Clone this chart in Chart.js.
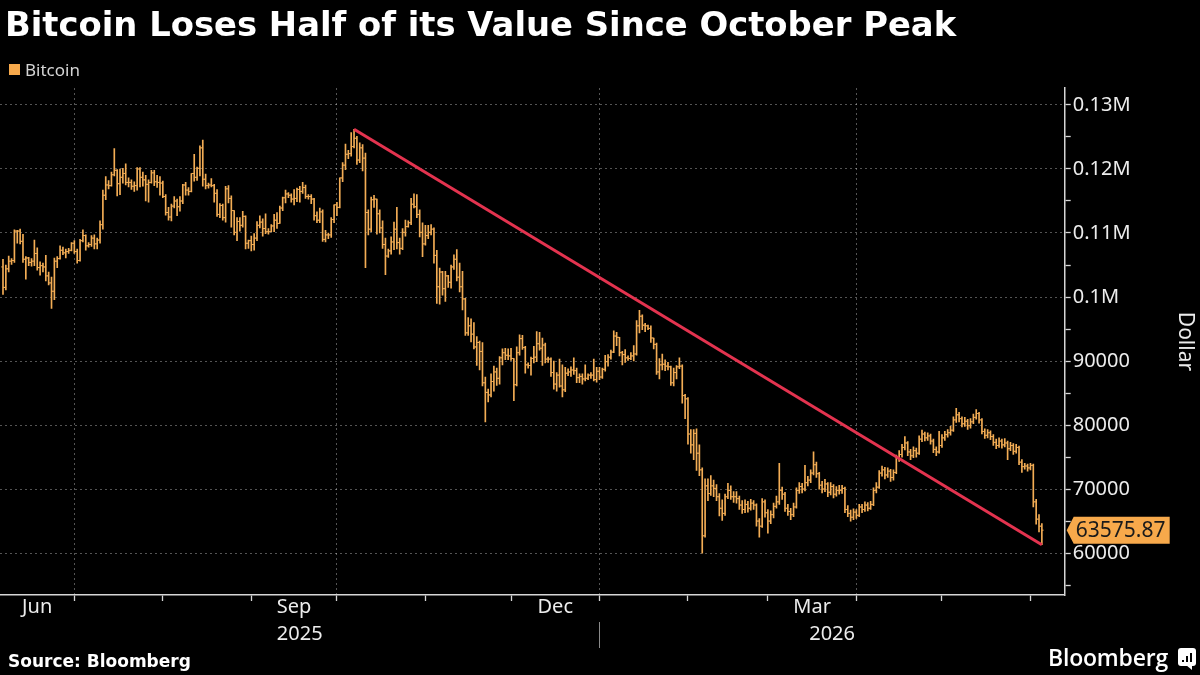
<!DOCTYPE html>
<html>
<head>
<meta charset="utf-8">
<script src="https://cdn.jsdelivr.net/npm/chart.js@4.4.1/dist/chart.umd.min.js"></script>
<style>
html,body{margin:0;padding:0;background:#000;}
body{width:1200px;height:675px;position:relative;overflow:hidden;}
#wrap{position:absolute;left:0;top:0;width:1200px;height:675px;}
#title{position:absolute;left:5px;top:8px;font:bold 33.8px/33px "DejaVu Sans";color:#fff;white-space:nowrap;z-index:2;}
#sw{position:absolute;left:9px;top:64px;width:11px;height:11px;background:#f7a94b;z-index:2;}
#leg{position:absolute;left:25px;top:61px;font:17px/17px "Noto Sans";color:#d4d4d4;z-index:2;}
#source{position:absolute;left:8px;top:653px;font:bold 17px/17px "DejaVu Sans";color:#fff;white-space:nowrap;z-index:2;}
#logo{position:absolute;left:1048px;top:646px;font:600 23px/23px "Open Sans";color:#fff;letter-spacing:-0.2px;z-index:2;}
#icon{position:absolute;left:1178px;top:648px;width:18px;height:18px;background:#fff;border-radius:3px;z-index:2;}
#icon i{position:absolute;bottom:4px;width:2px;background:#000;}
#tail{position:absolute;left:1186px;top:665px;width:0;height:0;border-right:6px solid #fff;border-bottom:5px solid transparent;z-index:2;}
</style>
</head>
<body>
<div id="wrap"><canvas id="c"></canvas></div>
<div id="title">Bitcoin Loses Half of its Value Since October Peak</div>
<div id="sw"></div><div id="leg">Bitcoin</div>
<div id="source">Source: Bloomberg</div>
<div id="logo">Bloomberg</div>
<div id="icon"><i style="left:4px;height:2px"></i><i style="left:8px;height:6px"></i><i style="left:12px;height:9px"></i></div>
<div id="tail"></div>
<script>
// Day index: 0 = 1 Jun 2025; bars are daily from day 5 onward. Prices in thousands of dollars.
const startDay = 5;
const opens = [
104.7,101.5,104.4,105.6,105.7, 110.3,110.3,108.7,105.9,106.1, 105.4,105.6,106.8,104.6,104.9, 104.7,103.3,102.2,100.9,105.6,
106.0,107.3,106.9,107.1,107.3, 108.4,107.1,105.7,108.8,109.6, 108.0,108.2,109.2,108.3,108.9, 111.3,115.9,117.5,117.4,119.1,
119.8,117.7,118.7,119.3,117.9, 117.9,117.3,117.4,120.0,118.7, 118.3,117.6,117.9,119.4,118.0, 117.9,117.8,115.7,113.2,112.5,
114.2,115.0,114.1,115.0,117.5, 116.7,116.5,119.3,118.7,120.1, 123.3,118.4,117.4,117.5,117.4, 116.2,112.9,114.3,112.4,116.9,
115.4,113.5,110.1,111.8,111.2, 112.6,108.4,108.8,108.2,109.2, 111.2,111.7,110.7,110.2,110.2, 111.1,112.0,111.5,113.9,115.5,
116.1,115.9,115.3,115.4,116.8, 116.5,117.1,115.7,115.7,115.3, 112.7,112.0,113.3,109.0,109.7, 109.7,112.1,114.4,114.0,118.6,
120.6,122.3,122.4,123.5,124.8, 121.4,123.3,121.7,113.2,110.6, 115.2,115.3,113.0,110.8,108.2, 106.4,107.2,108.6,110.6,108.5,
107.6,110.1,111.0,111.6,114.5, 114.1,112.9,110.1,108.3,109.6, 110.1,110.6,106.5,101.6,103.9, 101.3,103.3,102.3,104.7,105.9,
103.1,101.6,99.7,94.4,95.5, 94.2,92.2,92.9,91.5,86.6, 85.1,84.7,86.8,88.3,87.3, 90.5,91.3,90.9,90.8,90.4,
86.3,91.3,93.5,92.1,89.4, 89.3,90.4,90.6,92.7,92.0, 92.5,90.3,90.3,88.2,86.4, 87.8,86.1,85.5,88.1,88.3,
88.6,88.5,87.4,87.6,87.2, 87.3,87.8,87.8,87.1,88.4, 87.5,88.7,89.9,90.6,91.4, 93.9,93.7,91.3,91.0,90.5,
90.4,90.8,91.1,95.5,97.0, 95.6,95.5,95.1,93.6,92.6, 88.3,89.4,89.5,89.2,89.1, 86.6,88.2,89.1,89.2,84.6,
84.1,78.6,76.9,78.7,75.6, 73.0,62.7,70.5,69.3,70.5, 70.1,68.8,67.0,66.2,68.8, 69.8,68.8,68.8,68.5,67.5,
66.8,67.6,67.0,67.8,67.5, 65.0,64.2,68.0,66.3,65.0, 66.0,67.3,68.0,69.8,69.2, 67.0,66.5,66.0,67.2,69.8,
70.4,70.0,71.0,71.4,72.5, 73.8,72.4,70.6,70.0,70.8, 69.5,70.4,69.2,69.8,69.8, 70.1,66.8,66.2,65.6,66.4,
65.9,67.2,66.8,67.5,67.0, 67.6,69.8,70.3,72.5,73.0, 72.2,72.8,71.8,72.6,74.8, 75.4,76.5,77.2,75.8,75.2,
76.0,75.6,77.8,78.6,78.0, 78.3,77.5,76.2,75.8,76.8, 78.0,78.5,78.8,79.2,80.8, 81.6,81.0,80.2,80.6,79.9,
80.5,81.2,81.8,80.8,79.0, 78.4,78.8,78.2,77.3,76.8, 77.5,76.9,77.2,76.3,76.8, 75.9,76.5,74.2,73.5,73.6,
73.3,73.7,68.0,65.3,64.2
];
const highs = [
105.9,105.0,106.4,106.0,110.5, 110.4,110.6,109.8,106.3,106.2, 106.0,108.9,107.7,105.5,105.3, 106.5,103.9,103.1,106.1,106.3,
108.0,107.8,107.5,107.6,108.5, 108.8,107.5,109.0,110.5,109.7, 108.5,109.6,109.7,109.2,111.9, 116.7,118.8,118.2,119.5,123.2,
119.9,120.0,120.1,120.8,118.6, 118.3,118.0,120.2,120.2,119.5, 119.0,118.3,119.8,119.8,119.0, 118.8,118.1,116.0,114.0,114.5,
115.7,115.3,115.7,117.6,117.9, 117.1,119.3,122.3,120.3,123.6, 124.5,119.2,117.8,118.5,117.6, 116.8,114.6,114.5,117.3,117.4,
115.8,113.5,112.4,112.4,113.4, 112.7,108.9,109.5,109.9,111.8, 112.7,112.2,113.0,110.7,111.3, 112.9,113.2,114.2,115.6,116.7,
116.3,116.1,116.8,117.0,117.3, 117.9,117.5,116.0,116.0,115.4, 113.3,113.9,113.6,110.4,110.0, 112.4,114.4,114.8,118.6,121.0,
123.9,122.9,125.7,126.2,125.1, 124.1,123.8,122.5,113.6,115.6, 115.9,115.3,113.6,111.9,109.2, 107.5,109.4,111.7,114.0,109.2,
110.7,112.0,111.9,115.4,116.1, 116.0,113.6,111.6,111.2,111.2, 111.3,110.8,107.3,104.5,104.0, 104.0,103.4,105.0,106.6,107.4,
105.3,104.0,99.8,96.8,96.6, 96.0,93.8,93.1,92.9,87.5, 85.6,88.0,89.2,88.9,90.7, 91.9,92.0,91.9,92.0,90.4,
92.2,94.1,94.0,92.3,89.7, 90.6,92.3,94.6,94.5,93.6, 92.8,90.6,90.5,90.0,88.2, 90.3,89.4,89.0,88.8,89.1,
90.5,88.9,88.0,88.0,89.4, 88.0,88.2,90.3,89.0,89.0, 88.9,90.9,91.0,91.7,94.7, 94.5,93.7,91.5,91.8,90.8,
91.3,92.4,96.3,97.9,97.2, 95.9,95.6,95.5,93.6,92.8, 90.4,91.1,90.2,89.8,89.2, 88.9,89.3,90.5,89.4,84.8,
84.3,79.3,79.3,79.4,76.9, 73.3,71.6,71.6,72.1,71.4, 70.7,69.3,68.3,69.2,70.9, 70.5,69.6,69.6,68.9,68.2,
68.3,68.1,68.4,68.2,67.7, 65.4,68.5,68.3,66.8,66.6, 67.8,68.9,74.0,70.3,69.5, 67.6,67.0,67.8,70.2,71.0,
70.9,73.7,72.0,73.0,75.8, 74.2,72.6,71.2,71.5,71.0, 71.0,70.7,70.4,70.6,70.6, 70.3,67.4,66.7,66.9,66.8,
67.6,67.6,68.0,67.9,68.1, 70.2,71.0,72.9,73.6,73.4, 73.3,73.1,73.0,75.3,76.0, 77.0,78.2,77.4,76.2,76.6,
76.4,78.3,79.2,78.9,78.8, 78.6,77.8,76.6,79.0,78.5, 79.0,79.3,79.8,81.3,82.6, 82.0,81.3,81.2,80.9,81.0,
81.7,82.4,82.0,81.0,79.4, 79.3,79.1,78.5,77.8,78.0, 77.8,77.9,77.5,77.3,77.1, 77.0,76.7,74.6,74.0,73.9,
74.0,73.9,68.4,66.0,64.6
];
const lows = [
100.4,101.1,103.9,105.1,105.4, 108.4,108.3,105.4,102.8,104.9, 104.8,104.9,104.2,103.4,103.9, 102.5,101.9,98.2,99.6,104.6,
105.9,106.6,106.1,106.8,107.2, 106.8,105.3,105.6,108.6,107.3, 107.8,107.9,107.5,107.5,108.4, 110.6,115.2,116.9,117.3,118.9,
115.8,116.0,117.8,117.5,117.2, 116.8,116.5,116.7,117.2,117.3, 115.0,114.8,117.8,117.4,117.1, 115.9,115.5,112.8,112.0,111.9,
113.9,112.7,113.4,114.6,115.9, 115.9,116.4,118.1,118.2,118.9, 117.3,116.9,117.0,117.2,114.8, 112.6,112.4,112.0,111.7,114.7,
110.9,109.7,108.8,110.3,110.9, 107.5,107.6,107.2,107.3,108.8, 110.8,109.5,109.9,109.8,110.2, 110.2,110.7,111.5,113.5,114.7,
115.5,114.8,114.4,114.9,114.8, 116.2,115.4,115.3,114.6,112.0, 111.6,111.6,108.7,108.6,109.1, 109.3,111.6,112.7,113.9,118.0,
119.9,121.6,122.0,123.3,120.7, 121.0,119.7,104.6,109.7,110.2, 114.0,109.8,110.0,107.6,103.5, 106.2,106.7,107.4,107.5,106.7,
107.4,109.5,110.9,111.3,113.9, 112.4,109.4,106.3,108.1,109.1, 109.7,105.3,99.0,98.9,100.3, 99.3,101.5,101.4,104.3,102.5,
100.8,98.0,94.0,94.0,93.0, 91.9,89.3,88.6,86.1,80.5, 83.6,84.4,85.3,86.2,86.4, 89.4,90.2,90.2,90.1,83.8,
86.1,90.9,91.8,88.1,88.9, 87.8,89.7,89.9,91.7,89.3, 89.7,89.8,87.6,85.6,85.3, 85.9,84.4,85.2,87.7,87.6,
87.9,86.6,86.6,86.4,86.9, 87.1,87.3,86.9,86.7,87.1, 87.3,88.4,89.2,90.3,91.3, 92.4,90.8,89.4,89.8,90.1,
90.2,90.0,90.9,94.4,94.9, 94.6,94.9,92.9,91.9,87.9, 87.2,88.6,88.5,88.6,86.2, 86.1,87.2,88.8,83.4,81.0,
77.0,75.6,74.6,72.9,72.1, 60.0,62.5,68.2,69.0,68.8, 68.2,65.8,65.1,65.9,68.5, 68.4,67.9,67.8,66.8,66.2,
66.3,66.4,66.7,66.8,64.2, 62.5,64.0,65.6,63.1,64.6, 65.5,67.0,67.6,68.4,66.5, 65.9,65.2,65.7,67.0,69.3,
69.4,69.7,70.5,71.0,72.2, 71.8,70.0,69.4,69.6,68.8, 69.1,68.6,68.9,69.2,69.3, 66.3,65.7,65.0,65.2,65.4,
65.7,66.3,66.5,66.6,66.8, 67.4,69.4,70.1,72.0,71.6, 71.8,71.2,71.4,72.4,74.3, 75.0,76.1,75.2,74.6,74.9,
75.0,75.4,77.4,77.5,77.6, 77.0,75.7,75.2,75.6,76.5, 77.6,78.1,78.4,79.0,80.4, 80.5,79.7,79.8,79.3,79.5,
80.2,80.9,80.3,78.6,77.9, 78.0,77.7,76.8,76.3,76.5, 76.4,76.6,74.6,76.0,75.4, 75.6,73.8,72.6,73.1,72.8,
73.0,67.2,64.5,63.3,61.3
];
const closes = [
101.5,104.4,105.6,105.7,110.3, 110.3,108.7,105.9,106.1,105.4, 105.6,106.8,104.6,104.9,104.7, 103.3,102.2,100.9,105.6,106.0,
107.3,106.9,107.1,107.3,108.4, 107.1,105.7,108.8,109.6,108.0, 108.2,109.2,108.3,108.9,111.3, 115.9,117.5,117.4,119.1,119.8,
117.7,118.7,119.3,117.9,117.9, 117.3,117.4,120.0,118.7,118.3, 117.6,117.9,119.4,118.0,117.9, 117.8,115.7,113.2,112.5,114.2,
115.0,114.1,115.0,117.5,116.7, 116.5,119.3,118.7,120.1,123.3, 118.4,117.4,117.5,117.4,116.2, 112.9,114.3,112.4,116.9,115.4,
113.5,110.1,111.8,111.2,112.6, 108.4,108.8,108.2,109.2,111.2, 111.7,110.7,110.2,110.2,111.1, 112.0,111.5,113.9,115.5,116.1,
115.9,115.3,115.4,116.8,116.5, 117.1,115.7,115.7,115.3,112.7, 112.0,113.3,109.0,109.7,109.7, 112.1,114.4,114.0,118.6,120.6,
122.3,122.4,123.5,124.8,121.4, 123.3,121.7,113.2,110.6,115.2, 115.3,113.0,110.8,108.2,106.4, 107.2,108.6,110.6,108.5,107.6,
110.1,111.0,111.6,114.5,114.1, 112.9,110.1,108.3,109.6,110.1, 110.6,106.5,101.6,103.9,101.3, 103.3,102.3,104.7,105.9,103.1,
101.6,99.7,94.4,95.5,94.2, 92.2,92.9,91.5,86.6,85.1, 84.7,86.8,88.3,87.3,90.5, 91.3,90.9,90.8,90.4,86.3,
91.3,93.5,92.1,89.4,89.3, 90.4,90.6,92.7,92.0,92.5, 90.3,90.3,88.2,86.4,87.8, 86.1,85.5,88.1,88.3,88.6,
88.5,87.4,87.6,87.2,87.3, 87.8,87.8,87.1,88.4,87.5, 88.7,89.9,90.6,91.4,93.9, 93.7,91.3,91.0,90.5,90.4,
90.8,91.1,95.5,97.0,95.6, 95.5,95.1,93.6,92.6,88.3, 89.4,89.5,89.2,89.1,86.6, 88.2,89.1,89.2,84.6,84.1,
78.6,76.9,78.7,75.6,73.0, 62.7,70.5,69.3,70.5,70.1, 68.8,67.0,66.2,68.8,69.8, 68.8,68.8,68.5,67.5,66.8,
67.6,67.0,67.8,67.5,65.0, 64.2,68.0,66.3,65.0,66.0, 67.3,68.0,69.8,69.2,67.0, 66.5,66.0,67.2,69.8,70.4,
70.0,71.0,71.4,72.5,73.8, 72.4,70.6,70.0,70.8,69.5, 70.4,69.2,69.8,69.8,70.1, 66.8,66.2,65.6,66.4,65.9,
67.2,66.8,67.5,67.0,67.6, 69.8,70.3,72.5,73.0,72.2, 72.8,71.8,72.6,74.8,75.4, 76.5,77.2,75.8,75.2,76.0,
75.6,77.8,78.6,78.0,78.3, 77.5,76.2,75.8,76.8,78.0, 78.5,78.8,79.2,80.8,81.6, 81.0,80.2,80.6,79.9,80.5,
81.2,81.8,80.8,79.0,78.4, 78.8,78.2,77.3,76.8,77.5, 76.9,77.2,76.3,76.8,75.9, 76.5,74.2,73.5,73.6,73.3,
73.7,68.0,65.3,64.2,63.57587
];
// Trend line from the October peak to the latest low
const trendDays = [128, 369];
const trendValues = [126200, 61300];
// Axis ticks
const yTickValues = [55000,60000,65000,70000,75000,80000,85000,90000,95000,100000,105000,110000,115000,120000,125000,130000];
const monthStarts = [30,61,92,122,153,183,214,245,273,304,334,365];
const quarterStarts = [30,122,214,304];
const monthLabels = ['Jun','Sep','Dec','Mar'];
const monthSpans = [[3.95,30],[92,122],[183,214],[273,304]];
const yearLabels = ['2025','2026'];
const yearSpans = [[3.95,214],[214,377]];
const yearBreak = 214;
const xMin = 3.95, xMax = 377;

const ORANGE = '#f3ad55';
const RED = '#e3334f';
const AXIS = '#d6d6d6';
const GRID = 'rgba(255,255,255,0.33)';
const TXT = '#ececec';

const days = closes.map((_, i) => startDay + i);
const barData = days.map((d, i) => ({x: d, y: [lows[i] * 1000, highs[i] * 1000]}));
const trendData = trendDays.map((d, i) => ({x: d, y: trendValues[i]}));
const mid = s => (s[0] + s[1]) / 2;

const ohlcPlugin = {
  id: 'ohlcTicks',
  afterDatasetDraw(chart, args) {
    if (args.index !== 0) return;
    const {ctx, chartArea} = chart;
    const xs = chart.scales.x, ys = chart.scales.y;
    ctx.save();
    ctx.beginPath();
    ctx.rect(chartArea.left, chartArea.top, chartArea.width, chartArea.height);
    ctx.clip();
    ctx.strokeStyle = ORANGE;
    ctx.lineWidth = 1;
    ctx.beginPath();
    for (let i = 0; i < closes.length; i++) {
      const x = xs.getPixelForValue(days[i]);
      const yo = ys.getPixelForValue(opens[i] * 1000);
      const yc = ys.getPixelForValue(closes[i] * 1000);
      ctx.moveTo(x - 1.7, yo); ctx.lineTo(x, yo);
      ctx.moveTo(x, yc); ctx.lineTo(x + 1.7, yc);
    }
    ctx.stroke();
    ctx.restore();
  },
  afterDraw(chart) {
    const {ctx} = chart;
    const xs = chart.scales.x, ys = chart.scales.y;
    // year separator
    const sx = Math.round(xs.getPixelForValue(yearBreak)) + 0.5;
    ctx.save();
    ctx.strokeStyle = '#8a8a8a';
    ctx.lineWidth = 1;
    ctx.beginPath();
    ctx.moveTo(sx, 622); ctx.lineTo(sx, 648);
    ctx.stroke();
    // last value badge
    const last = closes[closes.length - 1] * 1000;
    const y = ys.getPixelForValue(last);
    const l = ys.left + 2;
    ctx.fillStyle = '#f7a94b';
    ctx.beginPath();
    ctx.moveTo(l, y);
    ctx.lineTo(l + 7, y - 13.5);
    ctx.lineTo(l + 103, y - 13.5);
    ctx.lineTo(l + 103, y + 13.5);
    ctx.lineTo(l + 7, y + 13.5);
    ctx.closePath();
    ctx.fill();
    ctx.fillStyle = '#1a1a1a';
    ctx.font = '21px "Noto Sans"';
    ctx.textBaseline = 'middle';
    ctx.textAlign = 'left';
    ctx.fillText(last.toFixed(2), l + 9, y + 1);
    ctx.restore();
  }
};

new Chart(document.getElementById('c'), {
  type: 'bar',
  data: {
    datasets: [
      {type: 'bar', label: 'Bitcoin', data: barData, backgroundColor: ORANGE, borderWidth: 0,
       barThickness: 1, grouped: false, order: 1, xAxisID: 'x', yAxisID: 'y'},
      {type: 'line', label: 'Trend', data: trendData, borderColor: RED, borderWidth: 3,
       pointRadius: 0, fill: false, tension: 0, order: 0, xAxisID: 'x', yAxisID: 'y'}
    ]
  },
  options: {
    responsive: true,
    maintainAspectRatio: false,
    animation: false,
    layout: {padding: {top: 88, left: 0, right: 0, bottom: 24}},
    plugins: {legend: {display: false}, tooltip: {enabled: false}},
    scales: {
      x: {
        type: 'linear', position: 'bottom', weight: 0, min: xMin, max: xMax, bounds: 'data', offset: false,
        afterBuildTicks: s => { s.ticks = monthStarts.map(v => ({value: v})); },
        afterFit: s => { s.height = 0; },
        grid: {offset: false, color: c => (c.tick && quarterStarts.includes(c.tick.value)) ? GRID : 'rgba(0,0,0,0)',
               lineWidth: 1, drawTicks: true, tickLength: 6, tickColor: AXIS, tickWidth: 1.3},
        border: {display: true, color: AXIS, width: 1.5, dash: [2, 3]},
        ticks: {display: false}
      },
      x2: {
        type: 'linear', position: 'bottom', weight: 1, min: xMin, max: xMax, bounds: 'data', offset: false,
        afterBuildTicks: s => { s.ticks = monthSpans.map(sp => ({value: mid(sp)})); },
        afterFit: s => { s.height = 26; },
        grid: {display: false, drawTicks: false},
        border: {display: false},
        ticks: {color: TXT, font: {family: 'Noto Sans', size: 20}, padding: 0, maxRotation: 0, autoSkip: false,
                callback: (v, i) => monthLabels[i]}
      },
      x3: {
        type: 'linear', position: 'bottom', weight: 2, min: xMin, max: xMax, bounds: 'data', offset: false,
        afterBuildTicks: s => { s.ticks = yearSpans.map(sp => ({value: mid(sp)})); },
        afterFit: s => { s.height = 30; },
        grid: {display: false, drawTicks: false},
        border: {display: false},
        ticks: {color: TXT, font: {family: 'Noto Sans', size: 20}, padding: 1, maxRotation: 0, autoSkip: false,
                callback: (v, i) => yearLabels[i]}
      },
      y: {
        type: 'linear', position: 'right', min: 53450, max: 132650, bounds: 'data',
        afterBuildTicks: s => { s.ticks = yTickValues.map(v => ({value: v})); },
        afterFit: s => { s.width = 135.3; },
        grid: {color: c => (c.tick && c.tick.value % 10000 === 0) ? GRID : 'rgba(0,0,0,0)',
               lineWidth: 1, drawTicks: true, tickLength: 6, tickColor: AXIS, tickWidth: 1.3},
        border: {display: true, color: AXIS, width: 1.5, dash: [2, 3]},
        ticks: {color: TXT, font: {family: 'Noto Sans', size: 20}, padding: 2, autoSkip: false,
                callback: v => (v % 10000) ? '' : (v >= 100000 ? (v / 1e6) + 'M' : String(v))},
        title: {display: true, text: 'Dollar', color: TXT, font: {family: 'Noto Sans', size: 21}, padding: {top: 2, bottom: 0}}
      }
    }
  },
  plugins: [ohlcPlugin]
});
</script>
</body>
</html>
